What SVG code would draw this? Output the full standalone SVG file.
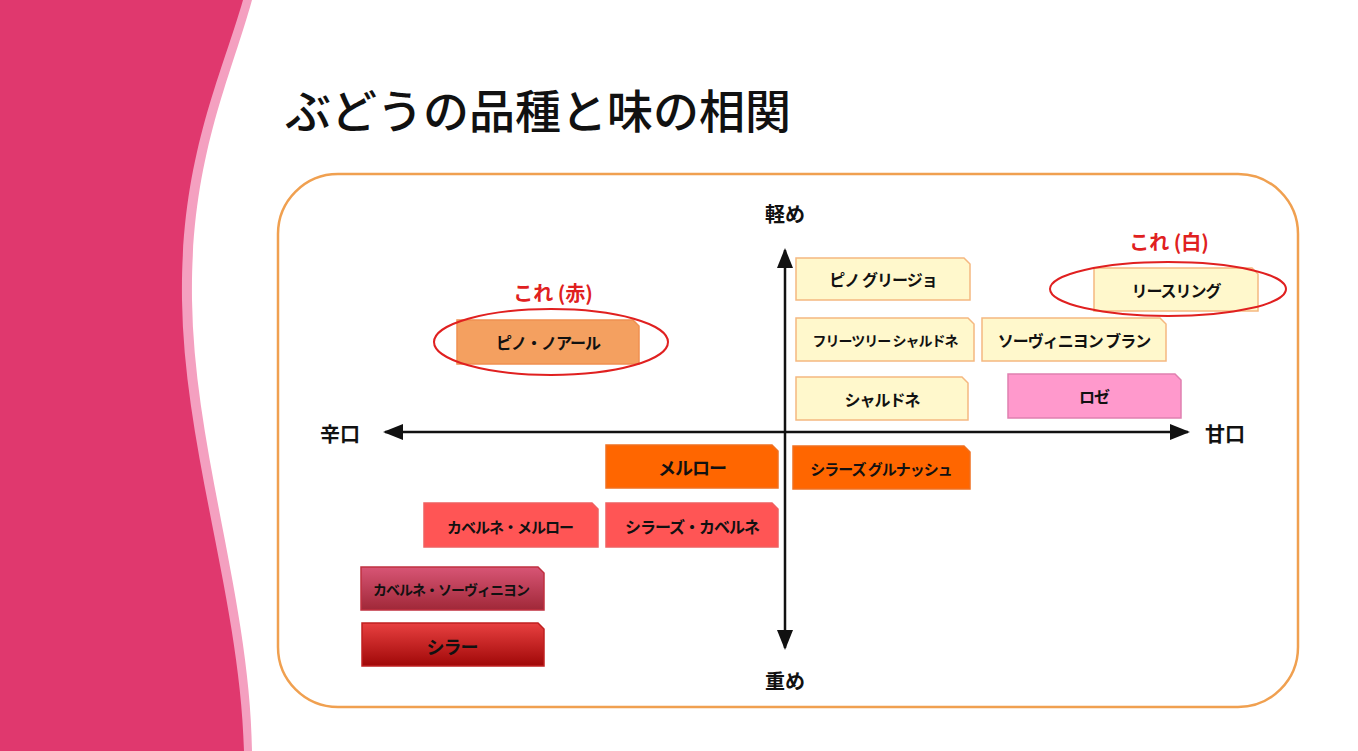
<svg xmlns="http://www.w3.org/2000/svg" width="1358" height="751" viewBox="0 0 1358 751">
<style>
text{font-family:"Noto Sans CJK JP","Noto Sans",sans-serif;font-weight:bold;text-anchor:middle;dominant-baseline:central}
.b{stroke-width:1.5}
.y{fill:#fff8cc;stroke:#f5b880}
.lbl{font-size:16px;fill:#111;letter-spacing:-1px}
.ax{font-size:20px;fill:#111}
.red{font-size:20px;fill:#e02020}
.ell{fill:none;stroke:#e02020;stroke-width:2}
</style>
<defs>
<marker id="a" viewBox="0 0 10 10" refX="9" refY="5" markerWidth="8" markerHeight="8" orient="auto-start-reverse"><path d="M0,1L10,5L0,9z" fill="#111"/></marker>
<linearGradient id="g1" x1="0" y1="0" x2="0" y2="1"><stop offset="0" stop-color="#d85575"/><stop offset="1" stop-color="#a02838"/></linearGradient>
<linearGradient id="g2" x1="0" y1="0" x2="0" y2="1"><stop offset="0" stop-color="#e84040"/><stop offset="1" stop-color="#a00808"/></linearGradient>
</defs>
<rect width="1358" height="751" fill="#fff"/>
<path d="M0,0H252C230,80 190,160 192,300C194,450 250,600 252,751H0z" fill="#f4a0c0"/>
<path d="M0,0H243C220,80 180,160 182,300C184,450 240,600 244,751H0z" fill="#e0386e"/>
<text x="285" y="108" style="font-size:46px;font-weight:500;text-anchor:start;fill:#111">ぶどうの品種と味の相関</text>
<rect x="278" y="174" width="1020" height="533" rx="60" fill="none" stroke="#f0a050" stroke-width="2.5"/>
<g id="connectors" stroke="#111" stroke-width="2.5">
<line x1="385" y1="432" x2="1188" y2="432" marker-start="url(#a)" marker-end="url(#a)"/>
<line x1="785" y1="250" x2="785" y2="648" marker-start="url(#a)" marker-end="url(#a)"/>
</g>
<text class="ax" x="785" y="213">軽め</text>
<text class="ax" x="785" y="680">重め</text>
<text class="ax" x="340" y="433">辛口</text>
<text class="ax" x="1225" y="433">甘口</text>
<g id="pinot-noir"><path class="b" d="M457,320h176l6,6v38h-182z" fill="#f4a060" stroke="#f09050"/><text class="lbl" x="548" y="342">ピノ・ノアール</text></g>
<g id="pinot-grigio"><path class="b y" d="M796,258h168l6,6v36h-174z"/><text class="lbl" x="883" y="279">ピノ グリージョ</text></g>
<g id="riesling"><path class="b y" d="M1094,268h158l6,6v37h-164z"/><text class="lbl" x="1176" y="290">リースリング</text></g>
<g id="freetree"><path class="b y" d="M796,318h172l6,6v37h-178z"/><text class="lbl" x="885" y="340" style="font-size:14px">フリーツリー シャルドネ</text></g>
<g id="sauvignon-blanc"><path class="b y" d="M982,318h178l6,6v37h-184z"/><text class="lbl" x="1074" y="340">ソーヴィニヨン ブラン</text></g>
<g id="chardonnay"><path class="b y" d="M796,377h166l6,6v37h-172z"/><text class="lbl" x="882" y="399">シャルドネ</text></g>
<g id="rose"><path class="b" d="M1008,374h167l6,6v38h-173z" fill="#ff99cc" stroke="#e080b0"/><text class="lbl" x="1094" y="396">ロゼ</text></g>
<g id="merlot"><path class="b" d="M606,445h166l6,6v37h-172z" fill="#ff6600" stroke="#f07020"/><text class="lbl" x="692" y="467" style="font-size:18px">メルロー</text></g>
<g id="shiraz-grenache"><path class="b" d="M793,446h171l6,6v37h-177z" fill="#ff6600" stroke="#f07020"/><text class="lbl" x="881" y="468" style="font-size:15px">シラーズ グルナッシュ</text></g>
<g id="cab-merlot"><path class="b" d="M424,503h168l6,6v38h-174z" fill="#ff5555" stroke="#f06060"/><text class="lbl" x="510" y="526" style="font-size:15px">カベルネ・メルロー</text></g>
<g id="shiraz-cab"><path class="b" d="M606,503h166l6,6v38h-172z" fill="#ff5555" stroke="#f06060"/><text class="lbl" x="692" y="526">シラーズ・カベルネ</text></g>
<g id="cab-sauv"><path class="b" d="M361,567h177l6,6v37h-183z" fill="url(#g1)" stroke="#c03040"/><text class="lbl" x="451" y="589" style="font-size:14px">カベルネ・ソーヴィニヨン</text></g>
<g id="syrah"><path class="b" d="M362,623h176l6,6v37h-182z" fill="url(#g2)" stroke="#c02020"/><text class="lbl" x="452" y="646" style="font-size:18px">シラー</text></g>
<ellipse class="ell" cx="551" cy="342" rx="117" ry="33"/>
<ellipse class="ell" cx="1168" cy="289" rx="118" ry="27"/>
<text class="red" x="553" y="292">これ (赤)</text>
<text class="red" x="1169" y="241">これ (白)</text>
</svg>
